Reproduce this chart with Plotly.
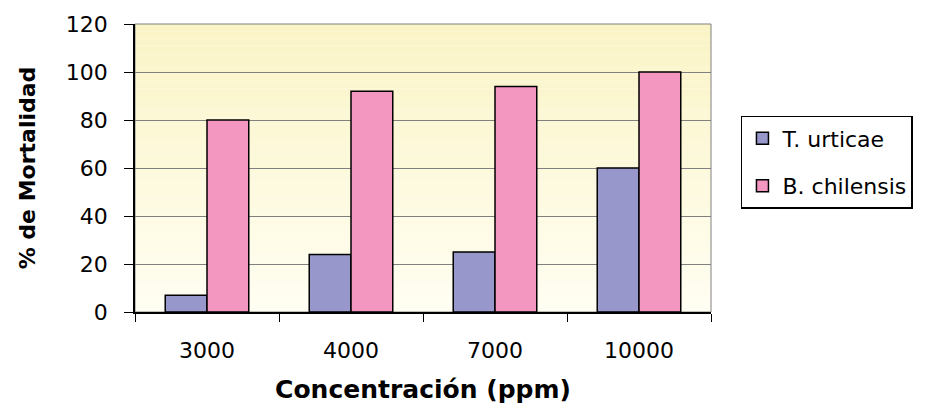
import plotly.graph_objects as go

categories = ["3000", "4000", "7000", "10000"]
t_urticae = [7, 24, 25, 60]
b_chilensis = [80, 92, 94, 100]
series_names = ["T. urticae", "B. chilensis"]
y_ticks = [0, 20, 40, 60, 80, 100, 120]

blue = "#9797CB"
pink = "#F396C0"

fig = go.Figure()
fig.add_trace(go.Bar(x=categories, y=t_urticae, name=series_names[0],
                     marker=dict(color=blue, line=dict(color="black", width=1.5)),
                     legendgroup="a"))
fig.add_trace(go.Bar(x=categories, y=b_chilensis, name=series_names[1],
                     marker=dict(color=pink, line=dict(color="black", width=1.5)),
                     legendgroup="b"))

# gradient background (pale yellow at top to near-white at bottom)
n = 40
top = (250, 244, 198)
bot = (255, 254, 242)
shapes = []
for i in range(n):
    t = i / (n - 1)
    c = tuple(round(bot[k] + (top[k] - bot[k]) * t) for k in range(3))
    shapes.append(dict(type="rect", xref="paper", yref="paper",
                       x0=0, x1=1, y0=i / n, y1=(i + 1) / n,
                       fillcolor="rgb(%d,%d,%d)" % c, line=dict(width=0), layer="below"))
shapes.append(dict(type="rect", xref="paper", yref="paper", x0=0, x1=1, y0=0, y1=1,
                   line=dict(color="#808080", width=1), layer="below"))

fig.update_layout(
    width=934, height=416,
    margin=dict(l=135, r=223, t=24, b=104),
    paper_bgcolor="white", plot_bgcolor="rgba(0,0,0,0)",
    barmode="group", bargap=0.42, bargroupgap=0,
    shapes=shapes,
    font=dict(family="DejaVu Sans", color="black"),
    showlegend=True,
    legend=dict(x=1.052, y=0.681, xanchor="left", yanchor="top",
                xref="paper", yref="paper",
                bordercolor="black", borderwidth=1.5, bgcolor="white",
                font=dict(size=22, family="DejaVu Sans", color="black"),
                traceorder="grouped", tracegroupgap=16,
                itemwidth=30),
    xaxis=dict(type="category", showline=True, linecolor="black", linewidth=1.5,
               ticks="outside", tickson="boundaries", ticklen=8, tickcolor="black",
               ticklabelstandoff=18,
               tickfont=dict(size=22, family="DejaVu Sans"),
               title=dict(text="Concentración (ppm)", standoff=18,
                          font=dict(size=25, family="DejaVu Sans", weight="bold")),
               showgrid=False),
    yaxis=dict(range=[0, 120], tickvals=y_ticks, showline=True, linecolor="black",
               linewidth=1.5, ticks="outside", ticklen=9, tickcolor="black",
               ticklabelstandoff=12,
               tickfont=dict(size=22, family="DejaVu Sans"),
               showgrid=True, gridcolor="#808080", gridwidth=1, zeroline=False,
               title=dict(text="% de Mortalidad", standoff=24,
                          font=dict(size=22, family="DejaVu Sans", weight="bold"))),
)

fig.write_html("out.html")
